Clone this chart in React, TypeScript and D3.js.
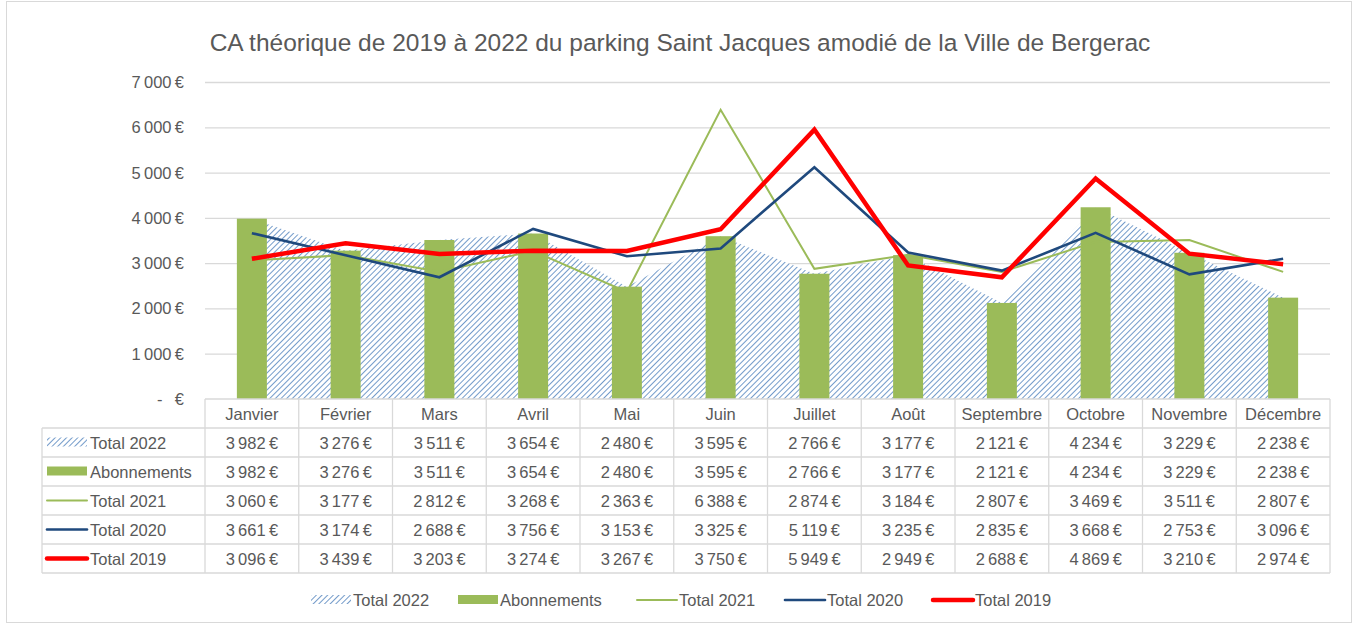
import React, { useEffect, useRef } from 'react';
import * as d3 from 'd3';

const months = ['Janvier', 'Février', 'Mars', 'Avril', 'Mai', 'Juin', 'Juillet', 'Août', 'Septembre', 'Octobre', 'Novembre', 'Décembre'];
const total2022 = [3982, 3276, 3511, 3654, 2480, 3595, 2766, 3177, 2121, 4234, 3229, 2238];
const abonnements = [3982, 3276, 3511, 3654, 2480, 3595, 2766, 3177, 2121, 4234, 3229, 2238];
const total2021 = [3060, 3177, 2812, 3268, 2363, 6388, 2874, 3184, 2807, 3469, 3511, 2807];
const total2020 = [3661, 3174, 2688, 3756, 3153, 3325, 5119, 3235, 2835, 3668, 2753, 3096];
const total2019 = [3096, 3439, 3203, 3274, 3267, 3750, 5949, 2949, 2688, 4869, 3210, 2974];
const yTicks = [0, 1000, 2000, 3000, 4000, 5000, 6000, 7000];
const title = 'CA théorique de 2019 à 2022 du parking Saint Jacques amodié de la Ville de Bergerac';

const FONT = '"Liberation Sans", Arial, sans-serif';
const FS = 16.5;
const GREEN = '#9BBB59';
const NAVY = '#1F497D';
const RED = '#FF0000';
const TEXT = '#595959';
const GRID = '#D9D9D9';

const fmt = (v: number) => `${d3.format(',')(v).replace(/,/g, '\u2009')}\u2009€`;

export default function App() {
    const svgRef = useRef<SVGSVGElement>(null);

    useEffect(() => {
        if (!svgRef.current) return;
        const svg = d3.select(svgRef.current);
        svg.selectAll('*').remove();

        const width = 1354;
        const height = 626;
        const plot = { left: 205, right: 1330, top: 82, bottom: 399 };

        const x = d3.scaleBand<string>().domain(months).range([plot.left, plot.right]).paddingInner(0).paddingOuter(0);
        const cx = (m: string) => (x(m) as number) + x.bandwidth() / 2;
        const y = d3.scaleLinear().domain([0, 7000]).range([plot.bottom, plot.top]);

        // hatch pattern
        const defs = svg.append('defs');
        const pat = defs.append('pattern')
            .attr('id', 'hatch')
            .attr('patternUnits', 'userSpaceOnUse')
            .attr('width', 4)
            .attr('height', 4)
            .attr('patternTransform', 'rotate(45)');
        pat.append('rect').attr('width', 4).attr('height', 4).attr('fill', '#ffffff');
        pat.append('line').attr('x1', 0).attr('y1', 0).attr('x2', 0).attr('y2', 4)
            .attr('stroke', '#4F81BD').attr('stroke-width', 1.6);

        // background + border
        svg.append('rect').attr('width', width).attr('height', height).attr('fill', '#fff');
        svg.append('rect').attr('x', 6.5).attr('y', 1.5).attr('width', 1345).attr('height', 621)
            .attr('fill', 'none').attr('stroke', GRID).attr('stroke-width', 1);

        svg.append('text')
            .attr('x', 680).attr('y', 51)
            .attr('text-anchor', 'middle')
            .attr('font-family', FONT)
            .attr('font-size', 24.5)
            .attr('fill', TEXT)
            .text(title);

        // gridlines + y labels
        svg.append('g').selectAll('line')
            .data(yTicks.filter(t => t > 0))
            .join('line')
            .attr('x1', plot.left).attr('x2', plot.right)
            .attr('y1', d => y(d) + 0.5).attr('y2', d => y(d) + 0.5)
            .attr('stroke', GRID).attr('stroke-width', 1.3);

        svg.append('g').selectAll('text')
            .data(yTicks.filter(t => t > 0))
            .join('text')
            .attr('x', 184).attr('y', d => y(d) + 6)
            .attr('text-anchor', 'end')
            .attr('font-family', FONT).attr('font-size', FS).attr('fill', TEXT)
            .text(d => fmt(d));
        svg.append('text').attr('x', 157).attr('y', y(0) + 6).attr('font-family', FONT).attr('font-size', FS).attr('fill', TEXT).text('-');
        svg.append('text').attr('x', 184).attr('y', y(0) + 6).attr('text-anchor', 'end').attr('font-family', FONT).attr('font-size', FS).attr('fill', TEXT).text('€');

        // area total 2022
        const area = d3.area<number>()
            .x((_, i) => cx(months[i]))
            .y0(y(0))
            .y1(d => y(d));
        svg.append('path').datum(total2022).attr('d', area).attr('fill', 'url(#hatch)');

        // bars
        const barW = x.bandwidth() * 0.32;
        svg.append('g').selectAll('rect')
            .data(abonnements)
            .join('rect')
            .attr('x', (_, i) => cx(months[i]) - barW / 2)
            .attr('y', d => y(d))
            .attr('width', barW)
            .attr('height', d => y(0) - y(d))
            .attr('fill', GREEN);

        const line = d3.line<number>().x((_, i) => cx(months[i])).y(d => y(d));
        const lines = [
            { data: total2021, color: GREEN, w: 2 },
            { data: total2020, color: NAVY, w: 2.6 },
            { data: total2019, color: RED, w: 4.5 },
        ];
        lines.forEach(l => {
            svg.append('path').datum(l.data).attr('d', line)
                .attr('fill', 'none').attr('stroke', l.color).attr('stroke-width', l.w)
                .attr('stroke-linejoin', 'miter');
        });

        // data table
        const rowH = 29;
        const tableTop = plot.bottom;
        const tableLeft = 42;
        const rows = [
            { name: 'Total 2022', data: total2022, key: 'hatch' },
            { name: 'Abonnements', data: abonnements, key: 'bar' },
            { name: 'Total 2021', data: total2021, key: 'l2021' },
            { name: 'Total 2020', data: total2020, key: 'l2020' },
            { name: 'Total 2019', data: total2019, key: 'l2019' },
        ];
        const tableBottom = tableTop + rowH * (rows.length + 1);
        const tg = svg.append('g').attr('stroke', GRID).attr('stroke-width', 1.3);
        tg.append('line').attr('x1', plot.left).attr('x2', plot.right).attr('y1', tableTop).attr('y2', tableTop);
        for (let r = 1; r <= rows.length + 1; r++) {
            tg.append('line').attr('x1', tableLeft).attr('x2', plot.right)
                .attr('y1', tableTop + r * rowH).attr('y2', tableTop + r * rowH);
        }
        tg.append('line').attr('x1', tableLeft).attr('x2', tableLeft).attr('y1', tableTop + rowH).attr('y2', tableBottom);
        months.forEach(m => {
            const xx = x(m) as number;
            tg.append('line').attr('x1', xx).attr('x2', xx).attr('y1', tableTop).attr('y2', tableBottom);
        });
        tg.append('line').attr('x1', plot.right).attr('x2', plot.right).attr('y1', tableTop).attr('y2', tableBottom);

        // header
        svg.append('g').selectAll('text')
            .data(months)
            .join('text')
            .attr('x', d => cx(d)).attr('y', tableTop + rowH / 2 + 6)
            .attr('text-anchor', 'middle')
            .attr('font-family', FONT).attr('font-size', FS).attr('fill', TEXT)
            .text(d => d);

        const drawKey = (g: d3.Selection<SVGGElement, unknown, null, undefined>, key: string, x0: number, yc: number, w: number) => {
            if (key === 'hatch') {
                g.append('rect').attr('x', x0).attr('y', yc - 5).attr('width', w).attr('height', 9).attr('fill', 'url(#hatch)');
            } else if (key === 'bar') {
                g.append('rect').attr('x', x0).attr('y', yc - 5).attr('width', w).attr('height', 9).attr('fill', GREEN);
            } else {
                const l = lines[key === 'l2021' ? 0 : key === 'l2020' ? 1 : 2];
                g.append('line').attr('x1', x0).attr('x2', x0 + w).attr('y1', yc).attr('y2', yc)
                    .attr('stroke', l.color).attr('stroke-width', l.w).attr('stroke-linecap', 'round');
            }
        };

        rows.forEach((row, r) => {
            const yc = tableTop + (r + 1) * rowH + rowH / 2;
            const g = svg.append('g');
            drawKey(g, row.key, 47, yc, 40);
            g.append('text').attr('x', 90).attr('y', yc + 6)
                .attr('font-family', FONT).attr('font-size', FS).attr('fill', TEXT).text(row.name);
            g.selectAll('text.v')
                .data(row.data)
                .join('text')
                .attr('class', 'v')
                .attr('x', (_, i) => cx(months[i])).attr('y', yc + 6)
                .attr('text-anchor', 'middle')
                .attr('font-family', FONT).attr('font-size', FS).attr('fill', TEXT)
                .text(d => fmt(d));
        });

        // legend
        const legendItems = [
            { name: 'Total 2022', key: 'hatch', x: 311 },
            { name: 'Abonnements', key: 'bar', x: 458 },
            { name: 'Total 2021', key: 'l2021', x: 637 },
            { name: 'Total 2020', key: 'l2020', x: 785 },
            { name: 'Total 2019', key: 'l2019', x: 933 },
        ];
        const ly = 600;
        legendItems.forEach(it => {
            const g = svg.append('g');
            drawKey(g, it.key, it.x, ly, 40);
            g.append('text').attr('x', it.x + 42).attr('y', ly + 6)
                .attr('font-family', FONT).attr('font-size', FS).attr('fill', TEXT).text(it.name);
        });
    }, []);

    return (
        <svg ref={svgRef} width={1354} height={626}
            style={{ position: 'absolute', left: 0, top: 0, display: 'block' }} />
    );
}
